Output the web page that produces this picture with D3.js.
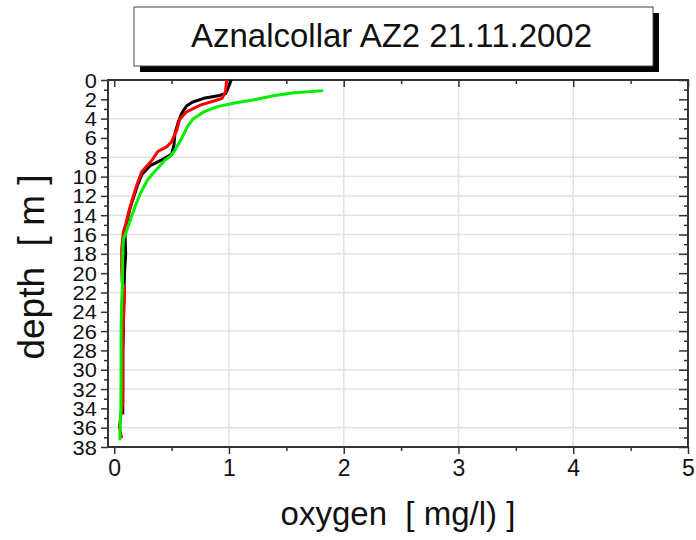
<!DOCTYPE html>
<html>
<head>
<meta charset="utf-8">
<script src="https://cdn.jsdelivr.net/npm/d3@7"></script>
<style>
  html, body { margin: 0; padding: 0; background: #fff; }
  svg { display: block; }
  text { font-family: "Liberation Sans", Arial, sans-serif; fill: #111; }
</style>
</head>
<body>
<svg id="chart" width="696" height="540"></svg>
<script>
// ---- data ----
const titleText = "Aznalcollar AZ2 21.11.2002";
const xLabel = "oxygen  [ mg/l) ]";
const yLabel = "depth  [ m ]";

const xTickValues = [0, 1, 2, 3, 4, 5];
const xMinorTickValues = [0.5, 1.5, 2.5, 3.5, 4.5];
const yTickValues = [0,2,4,6,8,10,12,14,16,18,20,22,24,26,28,30,32,34,36,38];
const yMinorTickValues = [1,3,5,7,9,11,13,15,17,19,21,23,25,27,29,31,33,35,37];
const xGridValues = [1, 2, 3, 4];
const yGridValues = [4, 8, 10, 12, 14, 16, 18, 22, 26, 30, 32, 36];

const blackDepth = [0, 0.9, 1.4, 1.6, 1.9, 2.3, 2.7, 3.4, 4.3, 5.5, 6.8, 7.7, 8.3, 8.9, 9.8, 11.0, 12.3, 13.2, 14.2, 15.2, 16.2, 18.0, 20.0, 22.0, 24.0, 26.0, 28.0, 30.0, 32.0, 34.6];
const blackO2    = [1.02, 0.99, 0.97, 0.92, 0.78, 0.68, 0.63, 0.59, 0.56, 0.53, 0.52, 0.50, 0.41, 0.31, 0.24, 0.20, 0.165, 0.14, 0.12, 0.105, 0.095, 0.10, 0.09, 0.085, 0.08, 0.08, 0.075, 0.075, 0.075, 0.075];

const redDepth = [0, 1.2, 1.9, 2.1, 2.6, 3.3, 4.1, 5.2, 6.4, 6.9, 7.4, 8.3, 9.5, 10.9, 12.1, 13.5, 15.2, 15.7, 17.5, 19.5, 21.0, 21.5, 23.0, 25.0, 28.0, 31.0, 33.4, 35.9, 37.1];
const redO2    = [0.98, 0.97, 0.94, 0.89, 0.75, 0.63, 0.57, 0.545, 0.50, 0.46, 0.38, 0.33, 0.24, 0.196, 0.165, 0.13, 0.094, 0.08, 0.065, 0.065, 0.07, 0.09, 0.088, 0.08, 0.075, 0.075, 0.074, 0.045, 0.065];

const greenDepth = [1.1, 1.35, 1.6, 2.0, 2.35, 2.76, 3.3, 4.0, 4.8, 5.5, 6.0, 7.25, 7.9, 8.3, 9.0, 9.5, 10.35, 11.7, 13.0, 14.5, 15.9, 16.5, 18.3, 21.4, 23.1, 26.0, 30.0, 34.0, 36.6, 37.3];
const greenO2    = [1.82, 1.55, 1.40, 1.24, 1.06, 0.90, 0.78, 0.69, 0.64, 0.61, 0.59, 0.53, 0.49, 0.44, 0.39, 0.35, 0.29, 0.23, 0.185, 0.14, 0.10, 0.08, 0.074, 0.072, 0.065, 0.06, 0.06, 0.058, 0.05, 0.05];

const seriesColors = ["#000000", "#ff0000", "#00ee00"];

// ---- layout ----
const svg = d3.select("#chart");
const plot = { left: 108, right: 688, top: 80, bottom: 447 };

const x = d3.scaleLinear().domain([-0.054, 5]).range([plot.left, plot.right]);
const y = d3.scaleLinear().domain([0, 38]).range([plot.top, plot.bottom]);

// title box with shadow
const box = { x: 134, y: 7, w: 519, h: 59, off: 6 };
svg.append("rect").attr("x", box.x + box.off).attr("y", box.y + box.off)
  .attr("width", box.w).attr("height", box.h).attr("fill", "#000");
svg.append("rect").attr("x", box.x).attr("y", box.y)
  .attr("width", box.w).attr("height", box.h)
  .attr("fill", "#fff").attr("stroke", "#444").attr("stroke-width", 1);
svg.append("text").attr("x", box.x + box.w / 2 - 2).attr("y", 47)
  .attr("text-anchor", "middle").attr("font-size", 33).text(titleText);

// grid
const grid = svg.append("g").attr("stroke", "#e2e2e2").attr("stroke-width", 1.5);
grid.selectAll(".gx").data(xGridValues).join("line")
  .attr("x1", d => x(d)).attr("x2", d => x(d))
  .attr("y1", plot.top).attr("y2", plot.bottom);
grid.selectAll(".gy").data(yGridValues).join("line")
  .attr("x1", plot.left).attr("x2", plot.right)
  .attr("y1", d => y(d)).attr("y2", d => y(d));

// axes
const axisColor = "#333";
function styleAxis(g) {
  g.select(".domain").remove();
  g.selectAll(".tick line").attr("stroke", axisColor).attr("stroke-width", 1.5);
  g.selectAll(".tick text").attr("fill", "#111").attr("font-family", "Liberation Sans, Arial, sans-serif");
}

// bottom
const gxb = svg.append("g").attr("transform", `translate(0,${plot.bottom})`)
  .call(d3.axisBottom(x).tickValues(xTickValues).tickSize(7).tickPadding(6).tickFormat(d3.format("d")));
styleAxis(gxb);
gxb.selectAll(".tick text").attr("font-size", 23);
svg.append("g").attr("transform", `translate(0,${plot.bottom})`)
  .call(d3.axisBottom(x).tickValues(xMinorTickValues).tickSize(4).tickFormat(""))
  .call(styleAxis);
// top (inward)
svg.append("g").attr("transform", `translate(0,${plot.top})`)
  .call(d3.axisBottom(x).tickValues(xTickValues).tickSize(7).tickFormat(""))
  .call(styleAxis);
svg.append("g").attr("transform", `translate(0,${plot.top})`)
  .call(d3.axisBottom(x).tickValues(xMinorTickValues).tickSize(4).tickFormat(""))
  .call(styleAxis);

// left
const gyl = svg.append("g").attr("transform", `translate(${plot.left},0)`)
  .call(d3.axisLeft(y).tickValues(yTickValues).tickSize(7).tickPadding(3).tickFormat(d3.format("d")));
styleAxis(gyl);
gyl.selectAll(".tick text").attr("font-size", 19.5).attr("dy", "0.36em")
  .attr("transform", "scale(1.12,1)");
svg.append("g").attr("transform", `translate(${plot.left},0)`)
  .call(d3.axisLeft(y).tickValues(yMinorTickValues).tickSize(4).tickFormat(""))
  .call(styleAxis);
// right (inward)
svg.append("g").attr("transform", `translate(${plot.right},0)`)
  .call(d3.axisLeft(y).tickValues(yTickValues).tickSize(9).tickFormat(""))
  .call(styleAxis);
svg.append("g").attr("transform", `translate(${plot.right},0)`)
  .call(d3.axisLeft(y).tickValues(yMinorTickValues).tickSize(4).tickFormat(""))
  .call(styleAxis);

// frame
svg.append("rect").attr("x", plot.left).attr("y", plot.top)
  .attr("width", plot.right - plot.left).attr("height", plot.bottom - plot.top)
  .attr("fill", "none").attr("stroke", axisColor).attr("stroke-width", 2);

// series
const line = d3.line().x(d => x(d[1])).y(d => y(d[0]));
const series = [
  d3.zip(blackDepth, blackO2),
  d3.zip(redDepth, redO2),
  d3.zip(greenDepth, greenO2)
];
svg.append("g").selectAll("path").data(series).join("path")
  .attr("d", line)
  .attr("fill", "none")
  .attr("stroke", (d, i) => seriesColors[i])
  .attr("stroke-width", 3)
  .attr("stroke-linejoin", "round");

// axis titles
svg.append("text").attr("x", 398).attr("y", 525)
  .attr("text-anchor", "middle").attr("font-size", 33)
  .style("white-space", "pre").text(xLabel);
svg.append("text")
  .attr("transform", `translate(44,${267}) rotate(-90)`)
  .attr("text-anchor", "middle").attr("font-size", 37)
  .style("white-space", "pre").text(yLabel);
</script>
</body>
</html>
